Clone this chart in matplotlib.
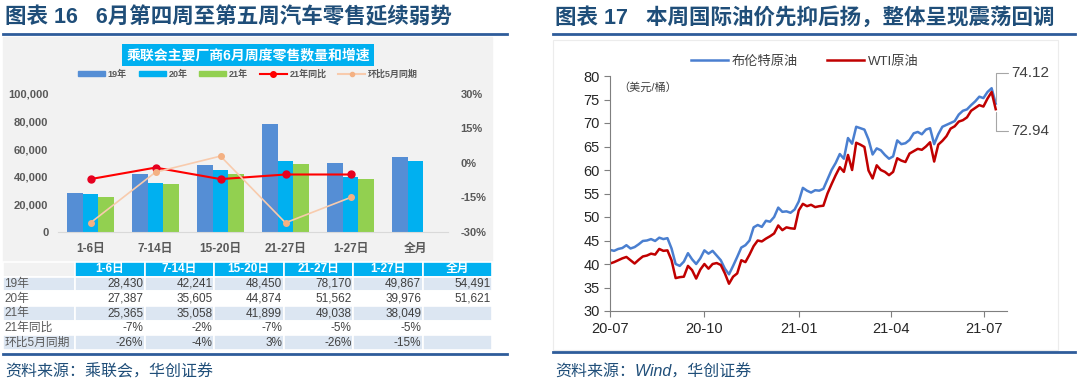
import numpy as np
import pandas as pd
import matplotlib.pyplot as plt
import matplotlib.dates as mdates
from matplotlib.patches import Rectangle, Patch
from matplotlib.lines import Line2D
from matplotlib.ticker import FuncFormatter

plt.rcParams['font.family'] = ['Liberation Sans', 'Noto Sans CJK SC', 'DejaVu Sans']

# 左图：乘联会周度零售
cats = ['1-6日', '7-14日', '15-20日', '21-27日', '1-27日', '全月']
y19 = [28430, 42241, 48450, 78170, 49867, 54491]
y20 = [27387, 35605, 44874, 51562, 39976, 51621]
y21 = [25365, 35058, 41899, 49038, 38049, np.nan]
yoy21 = [-7, -2, -7, -5, -5]
mom5 = [-26, -4, 3, -26, -15]
row_names = ['19年', '20年', '21年', '21年同比', '环比5月同期']

# 右图：布伦特 / WTI（每4天取一个点）
brent = [43.0, 42.8, 43.2, 43.4, 44.0, 43.3, 43.6, 44.2, 44.9, 45.0,
         45.3, 44.9, 45.6, 45.3, 45.5, 43.3, 40.0, 39.6, 40.5, 42.3,
         41.0, 40.0, 41.2, 42.9, 42.2, 42.8, 41.8, 40.8, 39.0, 37.8,
         39.6, 41.5, 43.5, 44.0, 45.0, 47.8, 48.3, 47.9, 49.2, 49.0,
         50.0, 52.0, 51.1, 51.2, 50.9, 51.6, 53.3, 56.2, 55.6, 55.2,
         55.7, 55.6, 56.0, 58.0, 60.0, 61.5, 63.4, 62.4, 66.8, 65.6,
         69.2, 68.9, 68.6, 66.5, 63.3, 64.6, 64.2, 63.2, 62.4, 62.9,
         66.3, 65.5, 65.7, 66.4, 67.8, 68.1, 67.6, 68.6, 68.9, 65.5,
         67.6, 69.2, 69.6, 70.0, 70.4, 71.8, 72.6, 72.9, 73.8, 74.6,
         75.6, 75.3, 76.6, 77.4, 74.12]
wti = [40.1, 40.4, 40.8, 41.2, 41.5, 40.8, 40.1, 40.9, 41.6, 41.8,
       42.2, 42.0, 43.2, 42.8, 42.9, 40.8, 37.0, 37.2, 37.3, 39.6,
       38.7, 36.9, 38.8, 40.0, 39.0, 40.0, 40.2, 39.8, 38.0, 35.8,
       37.3, 38.0, 40.8, 40.4, 42.0, 43.8, 45.0, 44.8, 45.4, 45.9,
       46.5, 48.2, 47.2, 47.8, 47.6, 47.5, 51.4, 52.8, 52.3, 52.6,
       52.1, 52.3, 52.4, 55.0, 57.0, 58.9, 60.6, 59.6, 63.2, 60.0,
       65.8, 65.4, 64.9, 59.9, 58.2, 61.0, 60.0, 59.6, 58.9, 59.6,
       62.5, 62.0, 61.7, 63.5, 64.0, 64.5, 64.3, 65.0, 65.9, 61.8,
       65.4, 66.2, 67.2, 68.8, 69.3, 70.3, 70.6, 71.2, 72.6, 73.2,
       73.8, 73.5, 75.2, 76.6, 72.94]
dates = pd.date_range('2020-07-01', periods=len(brent), freq='4D')

W, H = 1080, 391
fig = plt.figure(figsize=(W / 100, H / 100), dpi=100)


def px(x0, y0, x1, y1):
    return [x0 / W, 1 - y1 / H, (x1 - x0) / W, (y1 - y0) / H]


navy = '#1F4E79'
gray = '#595959'

# 标题和分隔线
fig.text(5 / W, 1 - 18 / H, '图表 16   6月第四周至第五周汽车零售延续弱势',
         fontsize=15.5, fontweight='bold', color=navy, va='center')
fig.text(555 / W, 1 - 18 / H, '图表 17   本周国际油价先抑后扬，整体呈现震荡回调',
         fontsize=15.5, fontweight='bold', color=navy, va='center')
for x0, x1, y in [(3, 507, 34), (553, 1075, 34), (3, 507, 354), (553, 1075, 352)]:
    fig.add_artist(Line2D([x0 / W, x1 / W], [1 - y / H, 1 - y / H], color='#2E5C9A', lw=2))
fig.text(5 / W, 1 - 372 / H, '资料来源：乘联会，华创证券', fontsize=11.5, color=navy,
         va='center', style='italic')
fig.text(555 / W, 1 - 372 / H, '资料来源：Wind，华创证券', fontsize=11.5, color=navy,
         va='center', style='italic')

# 左图背景
fig.add_artist(Rectangle((3 / W, 1 - 262 / H), 489 / W, 225 / H,
                         transform=fig.transFigure, color='#F2F2F2', zorder=0))
fig.text(248 / W, 1 - 55 / H, '乘联会主要厂商6月周度零售数量和增速', fontsize=10,
         fontweight='bold', color='white', ha='center', va='center',
         bbox=dict(boxstyle='square,pad=0.3', fc='#00B0F0', ec='none'))

ax1 = fig.add_axes(px(58, 94, 448, 232))
ax1.patch.set_alpha(0)
x = np.arange(len(cats))
w = 0.236
c19, c20, c21 = '#558ED5', '#00B0F0', '#92D050'
ax1.bar(x - w, y19, w, color=c19)
ax1.bar(x, y20, w, color=c20)
ax1.bar(x + w, y21, w, color=c21)
ax1.set_xlim(-0.5, 5.5)
ax1.set_ylim(0, 100000)
ax1.set_yticks(range(0, 100001, 20000))
ax1.yaxis.set_major_formatter(FuncFormatter(lambda v, p: f'{int(v):,}'))
ax1.set_xticks(x)
ax1.set_xticklabels(cats)
for s in ['top', 'right', 'left']:
    ax1.spines[s].set_visible(False)
ax1.spines['bottom'].set_color('#D9D9D9')
ax1.tick_params(length=0, colors=gray, labelsize=8)
ax1.tick_params(axis='y', pad=7)
ax1.tick_params(axis='x', pad=8, labelsize=8.5)
for t in ax1.get_xticklabels() + ax1.get_yticklabels():
    t.set_fontweight('bold')

ax1r = ax1.twinx()
ax1r.plot(x[:5], yoy21, color='#FF0000', lw=1.5, marker='o', ms=5, mfc='#E6001F', mec='#E6001F')
ax1r.plot(x[:5], mom5, color='#F8CBAD', lw=1.2, marker='o', ms=4, mfc='#F4B183', mec='#F4B183')
ax1r.set_ylim(-30, 30)
ax1r.set_yticks([-30, -15, 0, 15, 30])
ax1r.yaxis.set_major_formatter(FuncFormatter(lambda v, p: f'{int(v)}%'))
for s in ax1r.spines.values():
    s.set_visible(False)
ax1r.tick_params(length=0, colors=gray, labelsize=8, pad=9)
for t in ax1r.get_yticklabels():
    t.set_fontweight('bold')

handles = [Patch(color=c19), Patch(color=c20), Patch(color=c21),
           Line2D([], [], color='#FF0000', marker='o', ms=4),
           Line2D([], [], color='#F8CBAD', marker='o', ms=3, mfc='#F4B183', mec='#F4B183')]
leg = fig.legend(handles, ['19年', '20年', '21年', '21年同比', '环比5月同期'], loc='center',
                 bbox_to_anchor=(248 / W, 1 - 74 / H), ncol=5, frameon=False, fontsize=6.5,
                 handlelength=3, handleheight=0.5, handletextpad=0.3, columnspacing=1.3)
for t in leg.get_texts():
    t.set_color(gray)
    t.set_fontweight('bold')

# 数据表
axt = fig.add_axes(px(3, 262, 492, 350))
axt.axis('off')
cells = [[''] + cats,
         [row_names[0]] + [f'{v:,}' for v in y19],
         [row_names[1]] + [f'{v:,}' for v in y20],
         [row_names[2]] + [f'{int(v):,}' if not np.isnan(v) else '' for v in y21],
         [row_names[3]] + [f'{v}%' for v in yoy21] + [''],
         [row_names[4]] + [f'{v}%' for v in mom5] + ['']]
band = ['#00B0F0', '#DCE6F2', 'white', '#DCE6F2', 'white', '#DCE6F2']
colours = [[band[r]] * 7 for r in range(6)]
colours[0][0] = '#F2F2F2'
tbl = axt.table(cellText=cells, cellColours=colours, bbox=[0, 0, 1, 1],
                colWidths=[72] + [69.5] * 6)
tbl.auto_set_font_size(False)
tbl.set_fontsize(8.5)
for (r, c), cell in tbl.get_celld().items():
    cell.set_edgecolor('white')
    cell.set_linewidth(1.2)
    txt = cell.get_text()
    if r == 0:
        txt.set_color('white')
        txt.set_fontweight('bold')
        cell._loc = 'center'
        txt.set_ha('center')
    elif c == 0:
        txt.set_color(gray)
        cell._loc = 'left'
        txt.set_ha('left')
    else:
        txt.set_color('#404040')
        cell._loc = 'right'
        txt.set_ha('right')
    cell.PAD = 0.02

# 右图
fig.add_artist(Rectangle((553 / W, 1 - 350 / H), 505 / W, 310 / H, transform=fig.transFigure,
                         fc='white', ec='#ECECEC', lw=0.8, zorder=0))
ax2 = fig.add_axes(px(610, 76, 1007, 311))
ax2.plot(dates, brent, color='#4A7FD0', lw=1.8, label='布伦特原油')
ax2.plot(dates, wti, color='#C00000', lw=1.8, label='WTI原油')
ax2.set_ylim(30, 80)
ax2.set_yticks(range(30, 81, 5))
ax2.set_xlim(pd.Timestamp('2020-07-01'), pd.Timestamp('2020-07-01') + pd.Timedelta(days=387))
ax2.set_xticks(pd.to_datetime(['2020-07-01', '2020-10-01', '2021-01-01', '2021-04-01', '2021-07-01']))
ax2.xaxis.set_major_formatter(mdates.DateFormatter('%y-%m'))
for s in ['top', 'right']:
    ax2.spines[s].set_visible(False)
for s in ['left', 'bottom']:
    ax2.spines[s].set_color('#7F7F7F')
    ax2.spines[s].set_linewidth(0.8)
ax2.tick_params(direction='out', length=4, width=0.8, color='#7F7F7F', labelsize=10.5,
                labelcolor='#262626')
ax2.tick_params(axis='x', pad=4)
ax2.text(618, H - 87, '（美元/桶）', transform=None, fontsize=8, color='#404040', va='center')
leg2 = ax2.legend(loc='center', bbox_to_anchor=(805 / W, 1 - 62 / H),
                  bbox_transform=fig.transFigure, ncol=2, frameon=False, fontsize=9.5,
                  handlelength=2.8, columnspacing=2.2, handletextpad=0.3)
for t in leg2.get_texts():
    t.set_color('#404040')

arrow = dict(arrowstyle='-', color='#A6A6A6', lw=0.8, shrinkA=0, shrinkB=2,
             relpos=(0, 0.5), connectionstyle='angle,angleA=0,angleB=90')
ax2.annotate(f'{brent[-1]:.2f}', xy=(dates[-1], brent[-1]), xytext=(1011, H - 73),
             textcoords='figure pixels', fontsize=11, color='#404040', va='center',
             arrowprops=arrow, annotation_clip=False)
ax2.annotate(f'{wti[-1]:.2f}', xy=(dates[-1], wti[-1]), xytext=(1011, H - 131),
             textcoords='figure pixels', fontsize=11, color='#404040', va='center',
             arrowprops=arrow, annotation_clip=False)

fig.savefig('out.png', dpi=100)
